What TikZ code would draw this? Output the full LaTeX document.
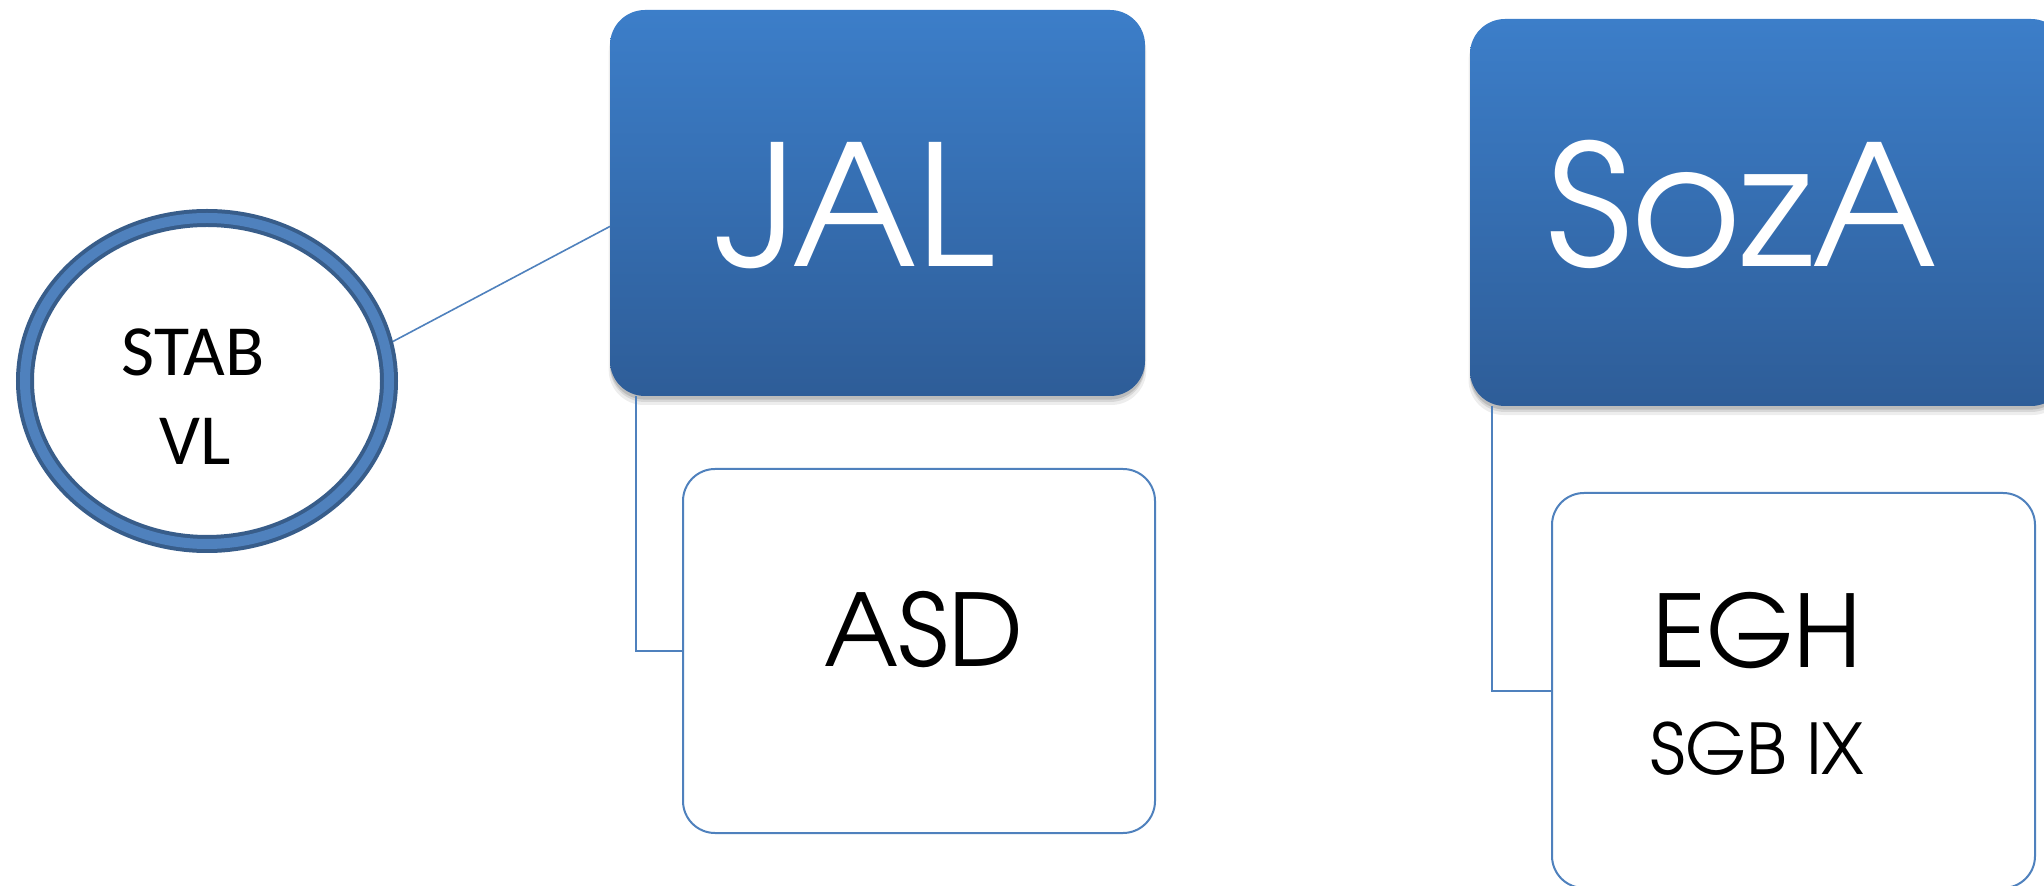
\documentclass[tikz,border=0pt]{standalone}
\usepackage{fontspec}
\newfontfamily\gothic{TeX Gyre Adventor}
\newfontfamily\calib{Carlito}
\usetikzlibrary{shapes.geometric,shadows}
\definecolor{boxtop}{RGB}{60,126,201}
\definecolor{boxbot}{RGB}{46,93,152}
\definecolor{edgeblue}{RGB}{79,129,189}
\definecolor{ringdark}{RGB}{56,93,138}
\definecolor{ringmid}{RGB}{79,129,189}
\begin{document}
\begin{tikzpicture}[x=0.5pt,y=-0.5pt,
  bluebox/.style={rectangle, rounded corners=17.5pt, inner sep=0pt, outer sep=0pt,
    top color=boxtop, bottom color=boxbot,
    drop shadow={shadow xshift=0pt, shadow yshift=-4pt, shadow scale=1.005, opacity=0.07, fill=black},
    drop shadow={shadow xshift=0pt, shadow yshift=-3pt, opacity=0.09, fill=black},
    drop shadow={shadow xshift=0pt, shadow yshift=-1.8pt, opacity=0.12, fill=black}},
  whitebox/.style={rectangle, rounded corners=16pt, inner sep=0pt, outer sep=0pt,
    draw=edgeblue, line width=1pt, fill=white},
  link/.style={draw=edgeblue, line width=1pt},
  ring/.style={ellipse, inner sep=0pt, outer sep=4.5pt, draw=ringdark, line width=2pt,
    double=ringmid, double distance=5pt, fill=white},
  bigtxt/.style={text=white, font=\gothic\fontsize{84}{90}\selectfont, anchor=base, inner sep=0pt},
  midtxt/.style={text=black, font=\gothic\fontsize{50}{56}\selectfont, anchor=base, inner sep=0pt},
  smalltxt/.style={text=black, font=\gothic\fontsize{35}{40}\selectfont, anchor=base, inner sep=0pt},
  circtxt/.style={text=black, font=\calib\fontsize{36}{40}\selectfont, anchor=base, inner sep=0pt}
]
\clip (0,0) rectangle (2044,886);
\fill[white] (0,0) rectangle (2044,886);

% nodes
\node[ring, minimum width=182pt, minimum height=163pt] (stab) at (207,381) {};
\node[bluebox, minimum width=267.5pt, minimum height=193pt] (jal) at (877.5,203) {};
\node[bluebox, minimum width=298pt, minimum height=193.5pt] (soza) at (1768,212.5) {};

% connectors (drawn before the white boxes)
\draw[link] ([xshift=13pt]jal.south west) |- (683,651) coordinate (asdin);
\draw[link] ([xshift=11pt]soza.south west) |- (1552,690.5) coordinate (eghin);
\draw[link, line width=0.8pt] (stab.12.6) -- (jal.185);

\node[whitebox, minimum width=236pt, minimum height=182pt] (asd) at (919,651) {};
\node[whitebox, minimum width=241.5pt, minimum height=197.5pt] (egh) at (1793.5,690.5) {};

% texts
\node[circtxt] (tstab) at (193,376) {STAB};
\node[circtxt] (tvl) at (195,465) {VL};
\node[bigtxt] (tjal) at (855,267) {JAL};
\node[bigtxt] (tsoza) at (1742.5,267) {SozA};
\node[midtxt] (tasd) at (924,667) {ASD};
\node[midtxt] (tegh) at (1757,668) {EGH};
\node[smalltxt] (tsgb) at (1757.5,774) {SGB IX};
\end{tikzpicture}
\end{document}
